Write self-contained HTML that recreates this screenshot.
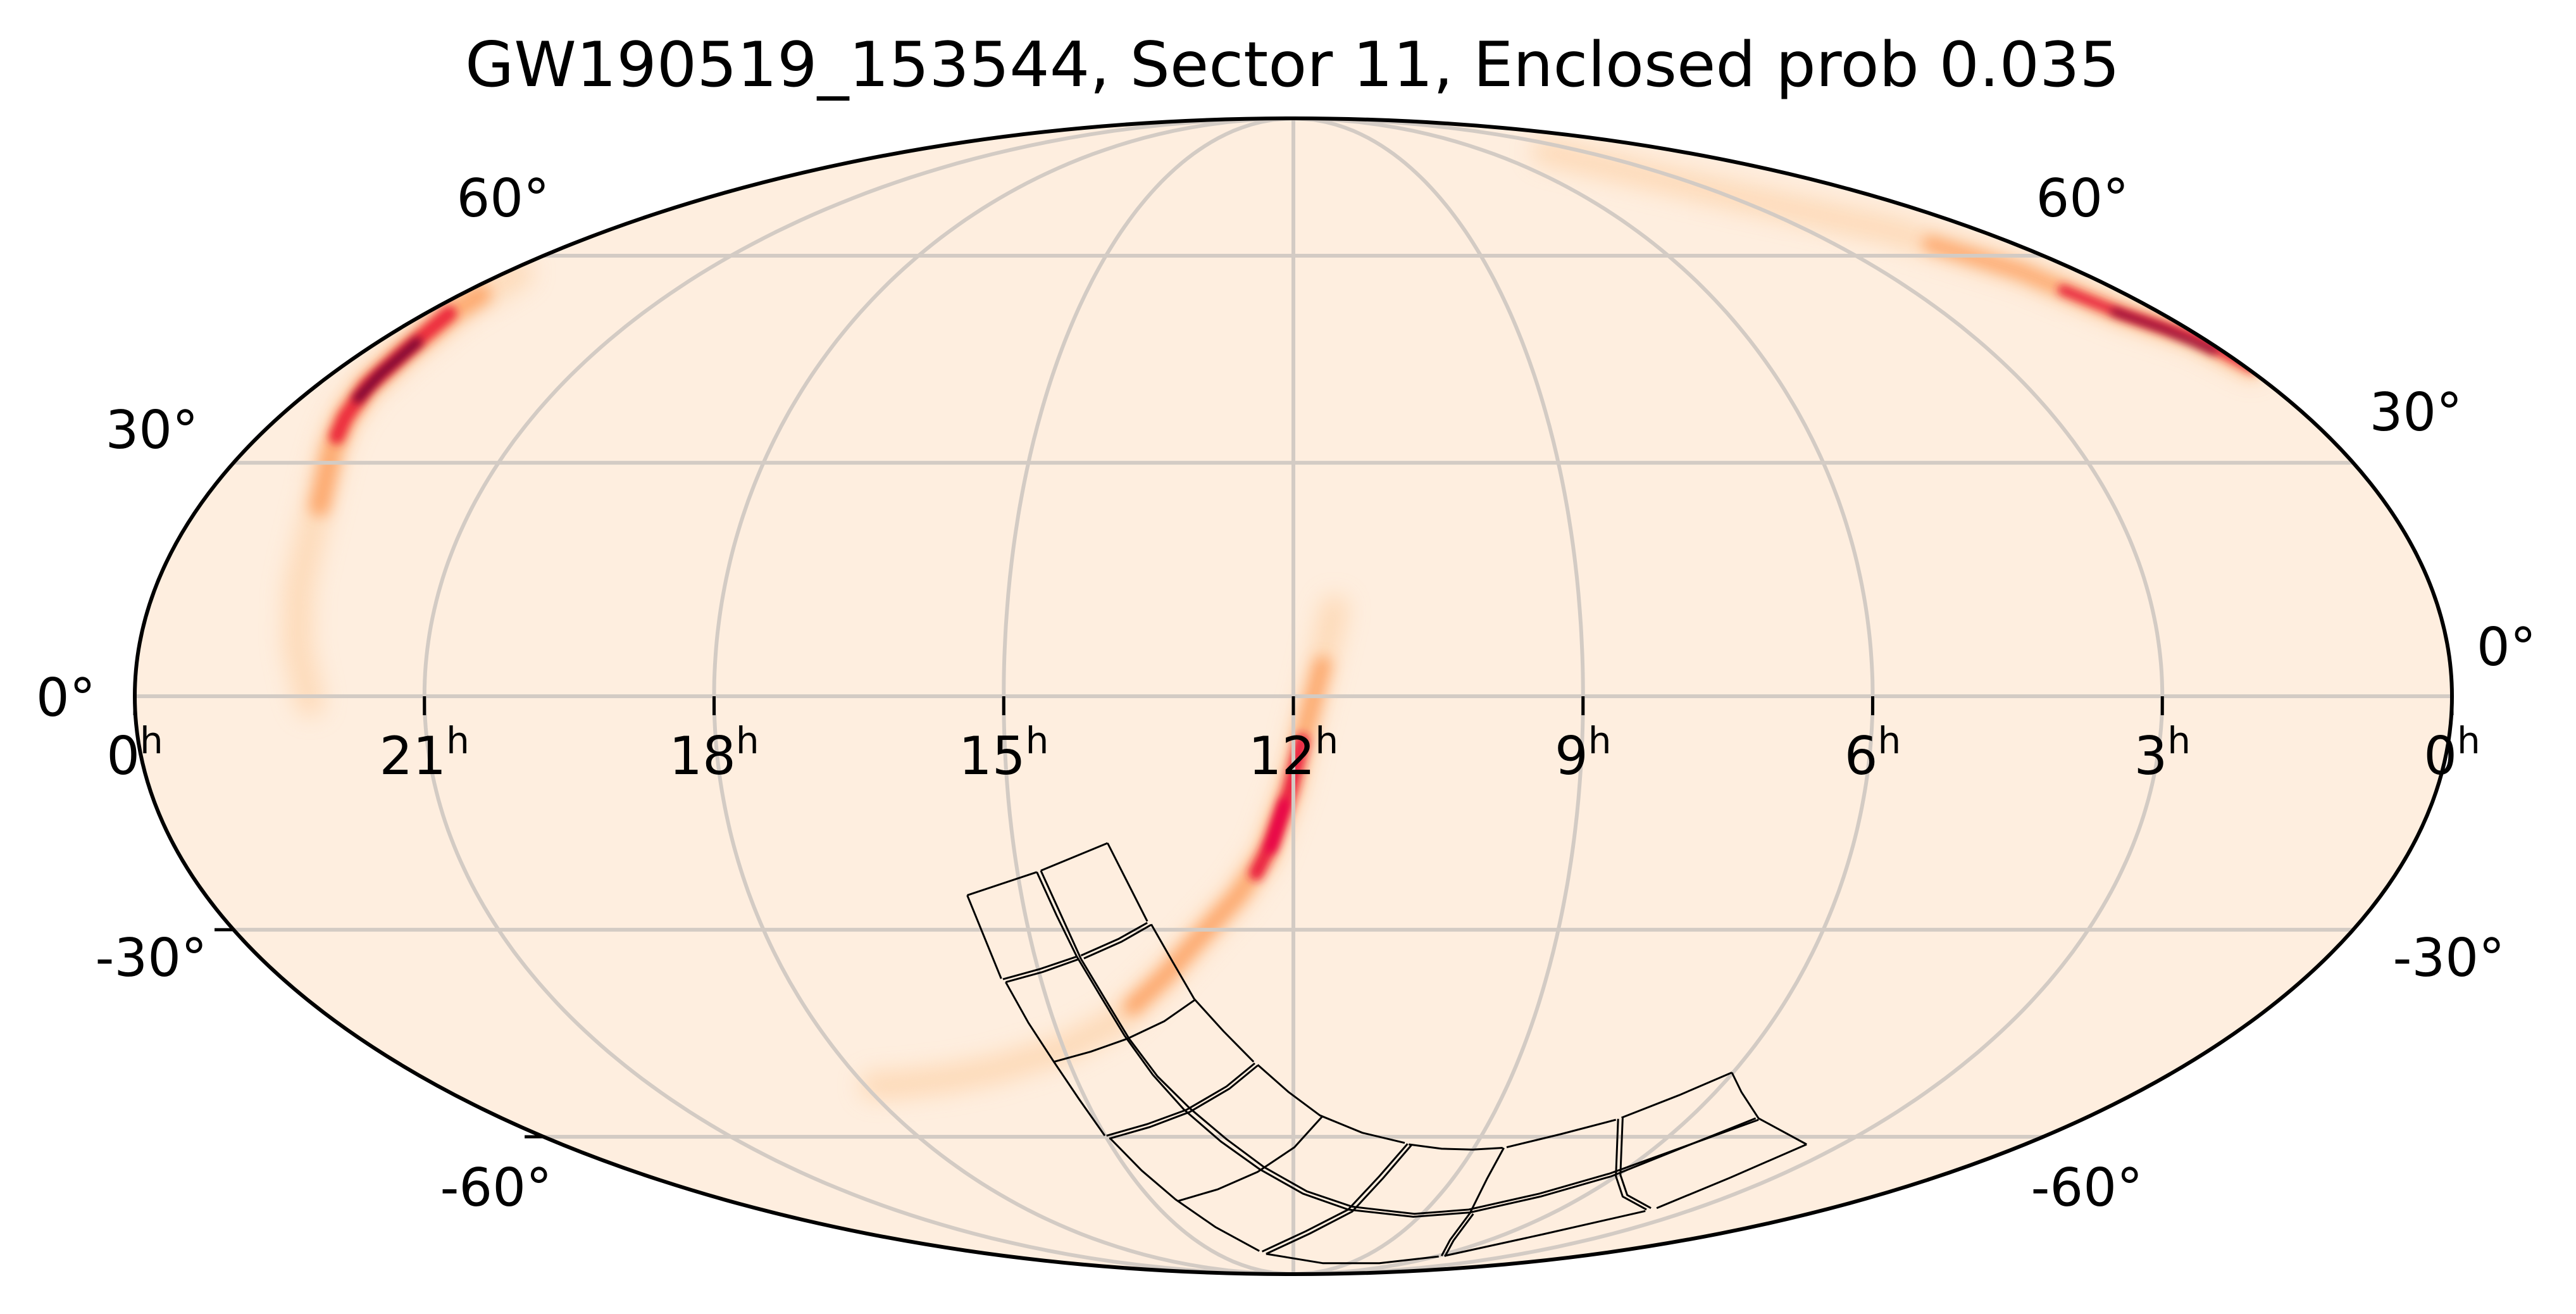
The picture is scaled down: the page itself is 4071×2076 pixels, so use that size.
<!DOCTYPE html>
<html><head><meta charset="utf-8">
<style>
html,body{margin:0;padding:0;background:#fff;}
svg{display:block;}
text{font-family:"DejaVu Sans","Liberation Sans",sans-serif;fill:#000;}
</style></head>
<body>
<svg id="s" xmlns="http://www.w3.org/2000/svg" width="4071" height="2076" viewBox="0 0 4071 2076">
<defs>
<clipPath id="clip"><ellipse cx="2044" cy="1100" rx="1831" ry="913"/></clipPath>
<filter id="b1" filterUnits="userSpaceOnUse" x="0" y="0" width="4071" height="2076"><feGaussianBlur stdDeviation="18"/></filter>
<filter id="b2" filterUnits="userSpaceOnUse" x="0" y="0" width="4071" height="2076"><feGaussianBlur stdDeviation="11"/></filter>
<filter id="b3" filterUnits="userSpaceOnUse" x="0" y="0" width="4071" height="2076"><feGaussianBlur stdDeviation="7"/></filter>
</defs>
<ellipse cx="2044" cy="1100" rx="1831" ry="913" fill="#feeedf"/>
<g clip-path="url(#clip)" fill="none" stroke-linecap="round" stroke-linejoin="round">
 <!-- left arc -->
 <polyline points="820,430 720,490 640,555 580,610 545,660 525,710 510,770 490,850 472,930 470,1020 490,1110" stroke="#fdd2a8" stroke-width="45" filter="url(#b1)" opacity="0.7"/>
 <polyline points="760,465 720,490 640,555 580,610 545,660 525,710 505,800" stroke="#fda062" stroke-width="32" filter="url(#b2)" opacity="0.85"/>
 <polyline points="710,495 640,555 580,610 545,660 532,690" stroke="#ec2a3c" stroke-width="24" filter="url(#b3)"/>
 <polyline points="660,540 600,592 565,630" stroke="#6e0030" stroke-width="14" filter="url(#b3)"/>
 <!-- top right arc -->
 <polyline points="2441,239 2727,306 2987,364 3194,429 3350,494 3467,533 3560,580" stroke="#fdd2a8" stroke-width="40" filter="url(#b1)" opacity="0.75"/>
 <polyline points="3050,385 3194,429 3350,494 3467,533 3560,580" stroke="#fda062" stroke-width="24" filter="url(#b2)" opacity="0.85"/>
 <polyline points="3260,458 3350,494 3467,533 3560,580" stroke="#e8203e" stroke-width="16" filter="url(#b3)"/>
 <polyline points="3340,492 3420,520 3500,555" stroke="#7a0030" stroke-width="9" filter="url(#b3)"/>
 <!-- center arc -->
 <polyline points="2109,961 2091,1039 2065,1143 2039,1247 2001,1350 1956,1415 1894,1483 1840,1543 1768,1612 1679,1658 1572,1690 1500,1704 1416,1714 1380,1715" stroke="#fdd2a8" stroke-width="42" filter="url(#b1)" opacity="0.75"/>
 <polyline points="2090,1050 2065,1143 2039,1247 2001,1350 1956,1415 1894,1483 1840,1543 1790,1590" stroke="#fda062" stroke-width="28" filter="url(#b2)" opacity="0.85"/>
 <polyline points="2058,1170 2039,1247 2010,1330 1985,1380" stroke="#ea1c40" stroke-width="22" filter="url(#b3)"/>
 <polyline points="2030,1270 2008,1340" stroke="#e8004a" stroke-width="16" filter="url(#b3)"/>
</g>
<g id="grid" clip-path="url(#clip)" fill="none" stroke="#d3cbc4" stroke-width="6"></g>
<g id="foot" fill="none" stroke="#000" stroke-width="3" stroke-linejoin="round"></g>
<ellipse cx="2044" cy="1100" rx="1831" ry="913" fill="none" stroke="#000" stroke-width="6"/>
<g id="ticks" stroke="#000" stroke-width="5"></g>
<g id="labels" font-size="83"></g>
<text x="735" y="136" font-size="98" textLength="2615" lengthAdjust="spacingAndGlyphs">GW190519_153544, Sector 11, Enclosed prob 0.035</text>
</svg>
<script>
var NS="http://www.w3.org/2000/svg";
var cx=2044,cy=1100,a=1831,b=913;
function theta(phi){var t=phi;if(Math.abs(Math.abs(phi)-Math.PI/2)<1e-9)return phi;
 for(var i=0;i<50;i++){var f=2*t+Math.sin(2*t)-Math.PI*Math.sin(phi);var d=2+2*Math.cos(2*t);if(Math.abs(d)<1e-12)break;t-=f/d;}return t;}
function proj(ra,dec){var lam=(ra-12)/12*Math.PI;var t=theta(dec*Math.PI/180);
 return [cx-a*(lam/Math.PI)*Math.cos(t), cy-b*Math.sin(t)];}
function el(tag,attrs,parent,txt){var e=document.createElementNS(NS,tag);for(var k in attrs)e.setAttribute(k,attrs[k]);if(txt!==undefined)e.textContent=txt;parent.appendChild(e);return e;}
var grid=document.getElementById('grid');
[3,6,9,12,15,18,21].forEach(function(ra){var pts=[];for(var d=-90;d<=90;d+=1){var p=proj(ra,d);pts.push(p[0].toFixed(1)+','+p[1].toFixed(1));}
 el('polyline',{points:pts.join(' ')},grid);});
[-60,-30,0,30,60].forEach(function(dec){var t=theta(dec*Math.PI/180);var y=cy-b*Math.sin(t);
 el('line',{x1:0,x2:4071,y1:y,y2:y},grid);});
var ticks=document.getElementById('ticks');
[0,3,6,9,12,15,18,21,24].forEach(function(r){var x=cx-a*(r-12)/12;el('line',{x1:x,x2:x,y1:1100,y2:1130},ticks);});
[-30,-60].forEach(function(dec){var t=theta(dec*Math.PI/180);var y=cy-b*Math.sin(t);var x=cx-a*Math.cos(t);el('line',{x1:x-30,x2:x,y1:y,y2:y},ticks);});
var L=document.getElementById('labels');
var ras=[[24,'0'],[21,'21'],[18,'18'],[15,'15'],[12,'12'],[9,'9'],[6,'6'],[3,'3'],[0,'0']];
ras.forEach(function(r){var x=cx-a*(r[0]-12)/12;var t=el('text',{x:x,y:1223,'text-anchor':'middle'},L);
 el('tspan',{},t,r[1]);el('tspan',{'font-size':'58',dy:'-33'},t,'h');});
var dl=[['0°',104,1131],['30°',240,708],['60°',795,342],['-30°',239,1542],['-60°',784,1905],
 ['0°',3961,1051],['30°',3818,680],['60°',3291,342],['-30°',3870,1542],['-60°',3298,1905]];
dl.forEach(function(d){el('text',{x:d[1],y:d[2],'text-anchor':'middle'},L,d[0]);});
var F=document.getElementById('foot');
function fp(arr){var pts=[];for(var i=0;i<arr.length;i+=2){pts.push((1500+arr[i]/1.118).toFixed(1)+','+(1300+arr[i+1]/2.185).toFixed(1));}
 el('polyline',{points:pts.join(' ')},F);}
var lines=[
 [32,250, 92,538],
 [100,550, 140,690, 185,825, 230,955, 275,1080],
 [285,1090, 340,1200, 400,1300, 470,1395, 548,1478],
 [560,1488, 660,1520, 760,1520, 865,1497],
 [875,1495, 1050,1420, 1230,1340],
 [1250,1330, 1380,1225, 1515,1110],
 [280,70, 350,340],
 [357,350, 395,480, 433,608],
 [433,608, 485,720, 538,825],
 [545,835, 600,930, 655,1010, 730,1070, 805,1105],
 [812,1110, 870,1125, 925,1128, 978,1122],
 [985,1120, 1080,1075, 1178,1025],
 [1188,1018, 1290,940, 1383,862],
 [32,250, 155,170], [162,165, 280,70],
 [1383,862, 1400,930, 1430,1020, 1515,1110],
 [155,170, 190,320, 225,460],
 [162,165, 197,315, 233,470],
 [225,460, 268,600, 310,735, 360,870, 415,990, 480,1100, 548,1195, 625,1280, 705,1335, 820,1360, 920,1345, 1045,1290, 1170,1220, 1425,1020],
 [233,470, 276,610, 318,745, 368,875, 425,985, 490,1092, 556,1188, 632,1272, 712,1325, 822,1350, 918,1335, 1043,1280, 1168,1210, 1430,1025],
 [95,540, 160,505, 225,462], [100,550, 165,515, 230,470],
 [233,458, 300,400, 350,345], [238,468, 305,410, 357,352],
 [185,825, 250,790, 315,745, 380,685, 435,610],
 [278,1080, 350,1040, 420,990, 490,910, 540,830],
 [283,1090, 355,1050, 425,998, 495,918, 545,838],
 [405,1305, 475,1265, 545,1205, 610,1120, 660,1012],
 [553,1480, 630,1410, 705,1335, 760,1220, 810,1108],
 [560,1488, 637,1418, 712,1342, 767,1226, 817,1112],
 [870,1495, 885,1440, 920,1348, 950,1230, 980,1122],
 [876,1497, 891,1442, 926,1350],
 [1232,1335, 1190,1290, 1178,1220, 1182,1022],
 [1240,1330, 1198,1285, 1186,1215, 1190,1018]
];
lines.forEach(fp);
</script>
</body></html>
